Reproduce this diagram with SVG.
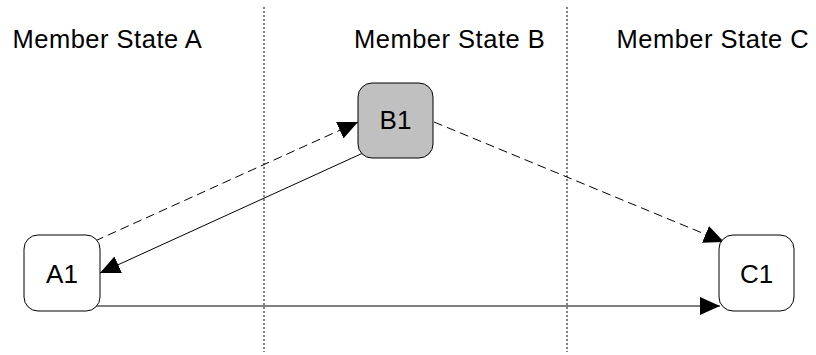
<svg xmlns="http://www.w3.org/2000/svg" width="816" height="355" viewBox="0 0 816 355">
<style>
text{font-family:"Liberation Sans",Arial,sans-serif;fill:#000}
.hdr{font-size:25.5px;letter-spacing:0.5px}
.lbl{font-size:26px;text-anchor:middle}
.box{stroke:#000;stroke-width:1}
.sep{stroke:#000;stroke-width:1;stroke-dasharray:2,2;fill:none}
.ln{stroke:#000;stroke-width:1;fill:none}
.dash{stroke-dasharray:9,5}
</style>
<defs>
<marker id="ah" markerUnits="userSpaceOnUse" markerWidth="20" markerHeight="18" refX="20" refY="9" orient="auto">
<path d="M0,0 L20,9 L0,18 z" fill="#000"/>
</marker>
</defs>
<rect width="816" height="355" fill="#fff"/>
<g id="separators">
<line class="sep" x1="264" y1="7" x2="264" y2="352"/>
<line class="sep" x1="567" y1="7" x2="567" y2="352"/>
</g>
<g id="headers">
<text class="hdr" x="12.5" y="47.5">Member State A</text>
<text class="hdr" x="354" y="47.5">Member State B</text>
<text class="hdr" x="616.5" y="47.5">Member State C</text>
</g>
<g id="connectors">
<line class="ln dash" x1="95" y1="241" x2="358" y2="122" marker-end="url(#ah)"/>
<line class="ln" x1="363" y1="153" x2="100" y2="273" marker-end="url(#ah)"/>
<line class="ln dash" x1="434" y1="122" x2="724" y2="242" marker-end="url(#ah)"/>
<line class="ln" x1="95" y1="306" x2="720" y2="306" marker-end="url(#ah)"/>
</g>
<g id="A1">
<rect class="box" x="24" y="235" width="76" height="76" rx="14" fill="#fff"/>
<text class="lbl" x="62" y="282.5">A1</text>
</g>
<g id="B1">
<rect class="box" x="358" y="83" width="75" height="75" rx="14" fill="#c0c0c0"/>
<text class="lbl" x="395.5" y="128.5">B1</text>
</g>
<g id="C1">
<rect class="box" x="719" y="235" width="75" height="76" rx="14" fill="#fff"/>
<text class="lbl" x="756.5" y="282.5">C1</text>
</g>
</svg>
